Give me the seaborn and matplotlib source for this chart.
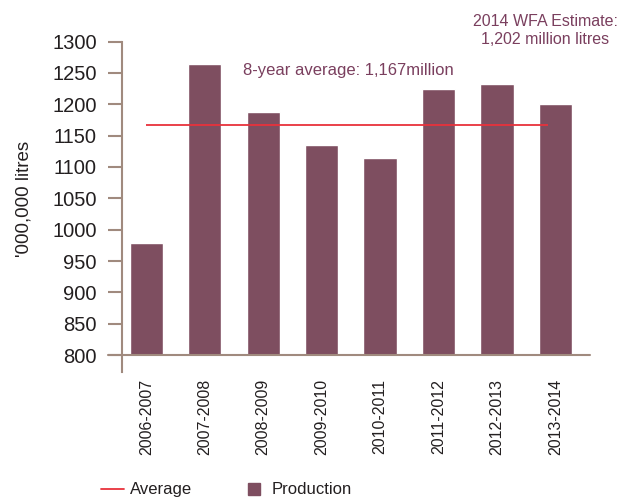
import matplotlib
matplotlib.use('Agg')
import matplotlib.pyplot as plt
import seaborn as sns
from matplotlib.lines import Line2D

# 資料
seasons = ['2006-2007', '2007-2008', '2008-2009', '2009-2010',
           '2010-2011', '2011-2012', '2012-2013', '2013-2014']
production = [979, 1264, 1187, 1135, 1115, 1225, 1233, 1201]
average = 1167
base = 800
y_ticks = [800, 850, 900, 950, 1000, 1050, 1100, 1150, 1200, 1250, 1300]

bar_color = '#7e4e60'
line_color = '#e8323c'
axis_color = '#a08a7e'
note_color = '#7a3f5e'
text_color = '#231f20'

sns.set_theme(style='white')
plt.rcParams['font.family'] = ['Liberation Sans', 'DejaVu Sans']
narrow = ['Liberation Sans Narrow', 'Liberation Sans', 'DejaVu Sans']

fig = plt.figure(figsize=(6.21, 5.01), dpi=100)
ax = fig.add_axes([0.196, 0.2575, 0.754, 0.6595])

sns.barplot(x=seasons, y=production, color=bar_color, width=0.57,
            saturation=1, ax=ax)
# 柱子從 800 開始
for p in ax.patches:
    p.set_height(p.get_height() - base)
    p.set_y(base)
ax.hlines(average, 0, len(seasons) - 1.12, color=line_color, lw=1.3, zorder=3)

ax.set_ylim(773, 1300)
ax.set_xlim(-0.42, 7.59)
ax.set_yticks(y_ticks)
ax.set_yticklabels([str(v) for v in y_ticks], fontsize=14.5, color=text_color)
ax.tick_params(axis='y', length=10, width=1.5, color=axis_color, pad=8, left=True)
ax.tick_params(axis='x', length=0, pad=5)
for lbl in ax.get_xticklabels():
    lbl.set_rotation(90)
    lbl.set_fontsize(11.5)
    lbl.set_family(narrow)
    lbl.set_color(text_color)

for s in ['top', 'right', 'bottom']:
    ax.spines[s].set_visible(False)
ax.spines['left'].set_color(axis_color)
ax.spines['left'].set_linewidth(1.5)
ax.axhline(base, xmin=-0.03, xmax=1, color=axis_color, lw=1.5, clip_on=False, zorder=4)

ax.set_xlabel('')
ax.set_ylabel("'000,000 litres", fontsize=13.5, color=text_color)
ax.yaxis.set_label_coords(-0.19, 0.524)

fig.text(0.391, 0.860, '8-year average: 1,167million', fontsize=12,
         color=note_color, va='center', ha='left')
fig.text(0.878, 0.939, '2014 WFA Estimate:\n1,202 million litres', fontsize=11.5,
         color=note_color, va='center', ha='center', multialignment='center',
         linespacing=1.3)

handles = [Line2D([], [], color=line_color, lw=1.3),
           Line2D([], [], color=bar_color, marker='s', linestyle='none', markersize=8)]
fig.legend(handles, ['Average', 'Production'], loc='center',
           bbox_to_anchor=(0.364, 0.022), ncol=2, frameon=False,
           prop={'family': narrow, 'size': 12}, handlelength=1.4,
           handletextpad=0.35, columnspacing=3.0, labelcolor=text_color)

fig.savefig('out.png', dpi=100)
